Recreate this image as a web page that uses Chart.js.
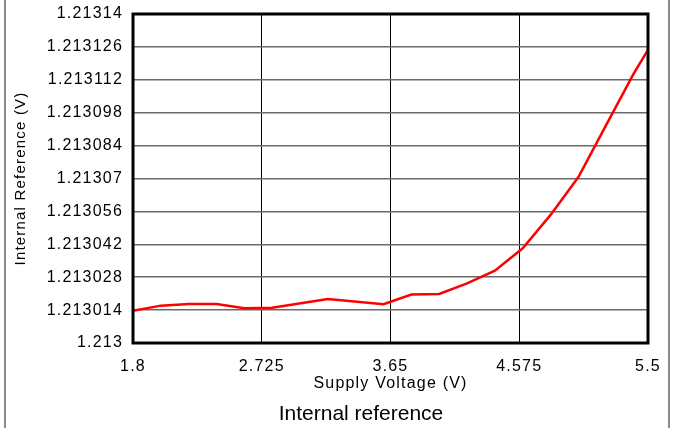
<!DOCTYPE html>
<html>
<head>
<meta charset="utf-8">
<script src="https://cdn.jsdelivr.net/npm/chart.js@4.4.1/dist/chart.umd.min.js"></script>
<style>
  html, body { margin: 0; padding: 0; background: #fff; }
  #wrap { position: relative; width: 673px; height: 428px; overflow: hidden; }
  #frame { position: absolute; left: 4px; top: 0; width: 666px; height: 428px; box-sizing: border-box;
           border-left: 2px solid #8a8a8a; border-right: 2px solid #8a8a8a; }
  #refChart { position: absolute; left: 0; top: 0; }
  #caption { position: absolute; left: 231px; width: 260px; top: 401px; text-align: center;
             font: 21px "Liberation Sans", Arial, sans-serif; line-height: 24px; color: #000; }
</style>
</head>
<body>
<div id="wrap">
  <div id="frame"></div>
  <canvas id="refChart" width="673" height="428"></canvas>
  <div id="caption">Internal reference</div>
</div>
<script>
// supply voltage (V) and measured internal reference (V)
const supplyVolts = [1.8, 2.0, 2.2, 2.4, 2.6, 2.8, 3.2, 3.6, 3.8, 4.0, 4.2, 4.4, 4.6, 4.8, 5.0, 5.2, 5.4, 5.5];
const refVolts = [1.2130137, 1.2130159, 1.2130166, 1.2130166, 1.2130148, 1.213015, 1.2130187, 1.2130165, 1.2130206,
  1.2130209, 1.2130254, 1.2130308, 1.2130403, 1.2130545, 1.2130706, 1.2130928, 1.2131149, 1.2131247];

const xTicks = [1.8, 2.725, 3.65, 4.575, 5.5];
const xTickLabels = ["1.8", "2.725", "3.65", "4.575", "5.5"];
const yTicks = [1.213, 1.213014, 1.213028, 1.213042, 1.213056, 1.21307, 1.213084, 1.213098, 1.213112, 1.213126, 1.21314];
const yTickLabels = ["1.213", "1.213014", "1.213028", "1.213042", "1.213056", "1.21307", "1.213084", "1.213098", "1.213112", "1.213126", "1.21314"];

const FONT = "'Liberation Sans', Arial, sans-serif";

// wider glyph spacing, the source text is a bit stretched
const spacingPlugin = {
  id: "spacingPlugin",
  beforeDraw(c) { c.ctx.letterSpacing = "1.2px"; },
};

const framePlugin = {
  id: "framePlugin",
  afterDraw(c) {
    const { ctx, chartArea: a } = c;
    ctx.save();
    ctx.strokeStyle = "#000";
    ctx.lineWidth = 3;
    ctx.strokeRect(a.left, a.top, a.right - a.left, a.bottom - a.top);
    ctx.restore();
  },
};

new Chart(document.getElementById("refChart"), {
  type: "line",
  data: {
    datasets: [{
      data: supplyVolts.map((x, i) => ({ x, y: refVolts[i] })),
      borderColor: "#ff0000",
      borderWidth: 2.5,
      pointRadius: 0,
      tension: 0,
      fill: false,
    }],
  },
  options: {
    responsive: false,
    animation: false,
    devicePixelRatio: 1,
    layout: { padding: { left: 6, right: 25, top: 14, bottom: 35 } },
    plugins: { legend: { display: false }, tooltip: { enabled: false }, title: { display: false } },
    scales: {
      x: {
        type: "linear",
        min: 1.8,
        max: 5.5,
        afterBuildTicks: (axis) => { axis.ticks = xTicks.map((v) => ({ value: v })); },
        afterFit: (axis) => { axis.height = 50; axis.paddingLeft = 0; axis.paddingRight = 0; },
        ticks: {
          autoSkip: false, maxRotation: 0, padding: 14, color: "#000",
          font: { family: FONT, size: 16 },
          callback: (v, i) => xTickLabels[i],
        },
        grid: { color: "#000", lineWidth: 1, drawTicks: false },
        border: { display: false },
        title: { display: true, text: "Supply Voltage (V)", color: "#000", font: { family: FONT, size: 16 }, padding: 0 },
      },
      y: {
        type: "linear",
        min: 1.213,
        max: 1.21314,
        afterBuildTicks: (axis) => { axis.ticks = yTicks.map((v) => ({ value: v })); },
        afterFit: (axis) => { axis.width = 127; axis.paddingTop = 0; axis.paddingBottom = 0; },
        ticks: {
          padding: 10, color: "#000",
          font: { family: FONT, size: 16 },
          callback: (v, i) => yTickLabels[i],
        },
        grid: { color: "#6a6a6a", lineWidth: 1.5, drawTicks: false },
        border: { display: false },
        title: { display: true, text: "Internal Reference (V)", color: "#000", font: { family: FONT, size: 15 }, padding: { top: 6, bottom: 0 } },
      },
    },
  },
  plugins: [spacingPlugin, framePlugin],
});
</script>
</body>
</html>
